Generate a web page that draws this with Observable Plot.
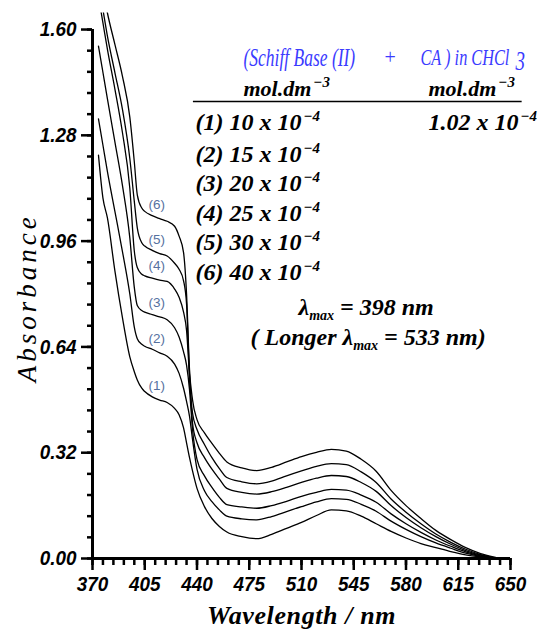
<!DOCTYPE html>
<html><head><meta charset="utf-8">
<script src="https://cdn.jsdelivr.net/npm/d3@7"></script>
<script src="https://cdn.jsdelivr.net/npm/@observablehq/plot@0.6"></script>
<style>body{margin:0;background:#fff}</style>
</head><body><div id="chart"></div>
<script>
const wavelengths = [374,377,380,385,390,395,398,400,403,405,410,415,420,425,428,431,433,435,437,440,445,450,455,460,470,480,490,500,510,520,530,540,550,560,570,580,590,600,610,620,630,640];
const curve1 = [1.22,1.09,1.03,0.87,0.73,0.61,0.565,0.54,0.515,0.505,0.489,0.479,0.472,0.454,0.435,0.395,0.35,0.305,0.265,0.212,0.157,0.121,0.097,0.080,0.066,0.060,0.073,0.091,0.109,0.130,0.147,0.144,0.128,0.105,0.082,0.062,0.045,0.033,0.021,0.011,0.005,0.001];
const curve2 = [1.33,1.25,1.17,1.05,0.93,0.80,0.70,0.665,0.648,0.642,0.633,0.622,0.612,0.588,0.56,0.515,0.475,0.43,0.36,0.27,0.205,0.172,0.147,0.128,0.120,0.117,0.127,0.142,0.157,0.171,0.181,0.179,0.164,0.143,0.113,0.088,0.066,0.047,0.031,0.016,0.006,0.001];
const curve3 = [1.55,1.47,1.39,1.26,1.13,0.97,0.82,0.765,0.75,0.745,0.738,0.731,0.722,0.698,0.67,0.625,0.585,0.51,0.39,0.30,0.25,0.215,0.185,0.163,0.156,0.152,0.160,0.173,0.188,0.200,0.209,0.207,0.192,0.170,0.135,0.105,0.079,0.056,0.037,0.020,0.008,0.001];
const curve4 = [1.70,1.62,1.54,1.42,1.29,1.12,0.93,0.88,0.86,0.855,0.848,0.842,0.838,0.815,0.79,0.745,0.69,0.55,0.41,0.35,0.305,0.27,0.24,0.212,0.200,0.195,0.202,0.215,0.230,0.243,0.251,0.248,0.230,0.203,0.160,0.124,0.093,0.066,0.043,0.024,0.010,0.001];
const curve5 = [1.74,1.66,1.58,1.47,1.36,1.21,1.08,1.00,0.955,0.945,0.932,0.922,0.915,0.893,0.875,0.84,0.77,0.55,0.44,0.39,0.345,0.305,0.272,0.245,0.232,0.226,0.234,0.250,0.265,0.279,0.287,0.284,0.262,0.230,0.180,0.140,0.105,0.074,0.049,0.028,0.012,0.002];
const curve6 = [1.80,1.72,1.65,1.555,1.46,1.335,1.20,1.10,1.06,1.05,1.037,1.028,1.020,1.005,0.975,0.925,0.80,0.57,0.48,0.42,0.38,0.348,0.318,0.292,0.274,0.266,0.276,0.292,0.308,0.321,0.330,0.325,0.300,0.264,0.206,0.160,0.121,0.085,0.057,0.033,0.015,0.003];
const curveLabels = ["(1)","(2)","(3)","(4)","(5)","(6)"];
const schiffConc = ["10","15","20","25","30","40"];
const caConc = "1.02";
const yTicks = [0,0.32,0.64,0.96,1.28,1.60];
const xTicks = [370,405,440,475,510,545,580,615,650];

const curves = [curve1,curve2,curve3,curve4,curve5,curve6];
const rows = curves.flatMap((c,i)=>c.map((a,j)=>({wl:wavelengths[j],a,curve:curveLabels[i]})));
const labelIdx = wavelengths.indexOf(415);
const labelRows = curves.map((c,i)=>({wl:413,a:c[labelIdx],text:curveLabels[i]}));

const ML=92, MR=34, MT=12.5, MB=72;
const SERIF = "Liberation Serif";
const t = (str, px, py, o={}) => Plot.text([str], {frameAnchor:"top-left", dx:px-ML, dy:py-MT, textAnchor:"start", lineAnchor:"middle", fontFamily:SERIF, fontSize:24, fontWeight:"bold", fontStyle:"italic", fill:"#000", ...o});
const blue = {fontWeight:"normal", fill:"#3b3bff", fontSize:17.5};

const chart = Plot.plot({
  width:544, height:630, marginLeft:ML, marginRight:MR, marginTop:MT, marginBottom:MB,
  x:{domain:[370,650]}, y:{domain:[0,1.65]},
  style:{background:"#fff", overflow:"visible"},
  marks:[
    Plot.line(rows,{x:"wl",y:"a",z:"curve",stroke:"#000",strokeWidth:1.3,curve:"monotone-x",clip:true}),
    Plot.text(labelRows,{x:"wl",y:"a",text:"text",dy:-14,fill:"#56719f",fontSize:13.5,fontFamily:"Liberation Sans"}),
    Plot.axisY(d3.range(0,1.6001,0.064),{tickSize:5,strokeWidth:2.5,tickFormat:()=>"",label:null}),
    Plot.axisY(yTicks,{tickSize:11,strokeWidth:2.5,tickPadding:5,tickFormat:d=>d.toFixed(2),fontSize:21,fontWeight:"bold",fontStyle:"italic",fontFamily:"Liberation Sans",label:null}),
    Plot.axisX(d3.range(370,650.01,7),{tickSize:7,strokeWidth:2.5,tickFormat:()=>"",label:null}),
    Plot.axisX(xTicks,{tickSize:12,strokeWidth:2.5,tickPadding:6,fontSize:21,fontWeight:"bold",fontStyle:"italic",fontFamily:"Liberation Sans",label:null}),
    Plot.ruleX([370],{y1:0,y2:1.6,strokeWidth:3}),
    Plot.ruleY([0],{x1:370,x2:650,strokeWidth:3}),
    Plot.text(["Wavelength / nm"],{frameAnchor:"bottom",dy:57,lineAnchor:"middle",textAnchor:"middle",fontFamily:SERIF,fontSize:26,fontWeight:"bold",fontStyle:"italic"}),
    Plot.text(["Absorbance"],{frameAnchor:"left",dx:27-ML,dy:12,rotate:-90,textAnchor:"middle",lineAnchor:"middle",fontFamily:SERIF,fontSize:27,fontStyle:"italic"}),
    // legend
    t("(Schiff Base (II)",243,57,blue),
    t("+",384,57,{...blue,fontSize:20,fontStyle:"normal"}),
    t("CA ) in CHCl",420,57,{...blue,fontSize:16.3}),
    t("3",515,61,{...blue,fontSize:19}),
    t("mol.dm\u207B\u00B3",243,88,{fontSize:22}),
    t("mol.dm\u207B\u00B3",428,88,{fontSize:22}),
    Plot.ruleY([1.382],{x1:437.6,x2:657.8,strokeWidth:1.5}),
    ...schiffConc.map((c,i)=>t(`${curveLabels[i]} ${c} x 10\u207B\u2074`,195,[122,154,183,213,242,272][i])),
    t(`${caConc} x 10\u207B\u2074`,428,122),
    t("\u03BB\u2098\u2090\u2093 = 398 nm",298,307),
    t("( Longer \u03BB\u2098\u2090\u2093 = 533 nm)",250,337)
  ]
});

// typography: condensed title, narrow tick labels, real superscripts/subscripts
function addScale(el, sx, sy) {
  const tr = el.getAttribute("transform");
  if (tr) el.setAttribute("transform", `${tr} scale(${sx},${sy})`);
  else {
    const x = +el.getAttribute("x") || 0, y = +el.getAttribute("y") || 0;
    el.removeAttribute("x"); el.removeAttribute("y");
    el.setAttribute("transform", `translate(${x},${y}) scale(${sx},${sy})`);
  }
}
const SUP = {"\u00B3":"3","\u2074":"4"};
const NS = "http://www.w3.org/2000/svg";
chart.querySelectorAll("text").forEach(el=>{
  const s = el.textContent;
  if (/^\d\.\d\d$|^\d{3}$/.test(s)) { addScale(el, 0.9, 1); return; }
  if (s==="(Schiff Base (II)" || s==="CA ) in CHCl" || s==="3") { addScale(el, 1, 1.45); return; }
  if (s==="Absorbance") { el.style.letterSpacing="4px"; return; }
  if (s==="Wavelength / nm") { el.style.letterSpacing="0.6px"; return; }
  if (/[\u207B\u2098]/.test(s)) {
    const parts = s.split(/(\u207B[\u00B3\u2074]|\u2098\u2090\u2093)/).filter(p=>p);
    el.textContent = "";
    let shift = 0;
    parts.forEach(p=>{
      const ts = document.createElementNS(NS,"tspan");
      if (p[0]==="\u207B") { ts.textContent = "\u2212"+SUP[p[1]]; ts.setAttribute("dy",-9-shift); shift=-9; ts.setAttribute("font-size","15"); ts.setAttribute("dx","2"); }
      else if (p[0]==="\u2098") { ts.textContent = "max"; ts.setAttribute("dy",5-shift); shift=5; ts.setAttribute("font-size","14"); }
      else { ts.textContent = p; if (shift) ts.setAttribute("dy",-shift); shift=0; }
      el.appendChild(ts);
    });
  }
});
document.getElementById("chart").appendChild(chart);
</script>
</body></html>
